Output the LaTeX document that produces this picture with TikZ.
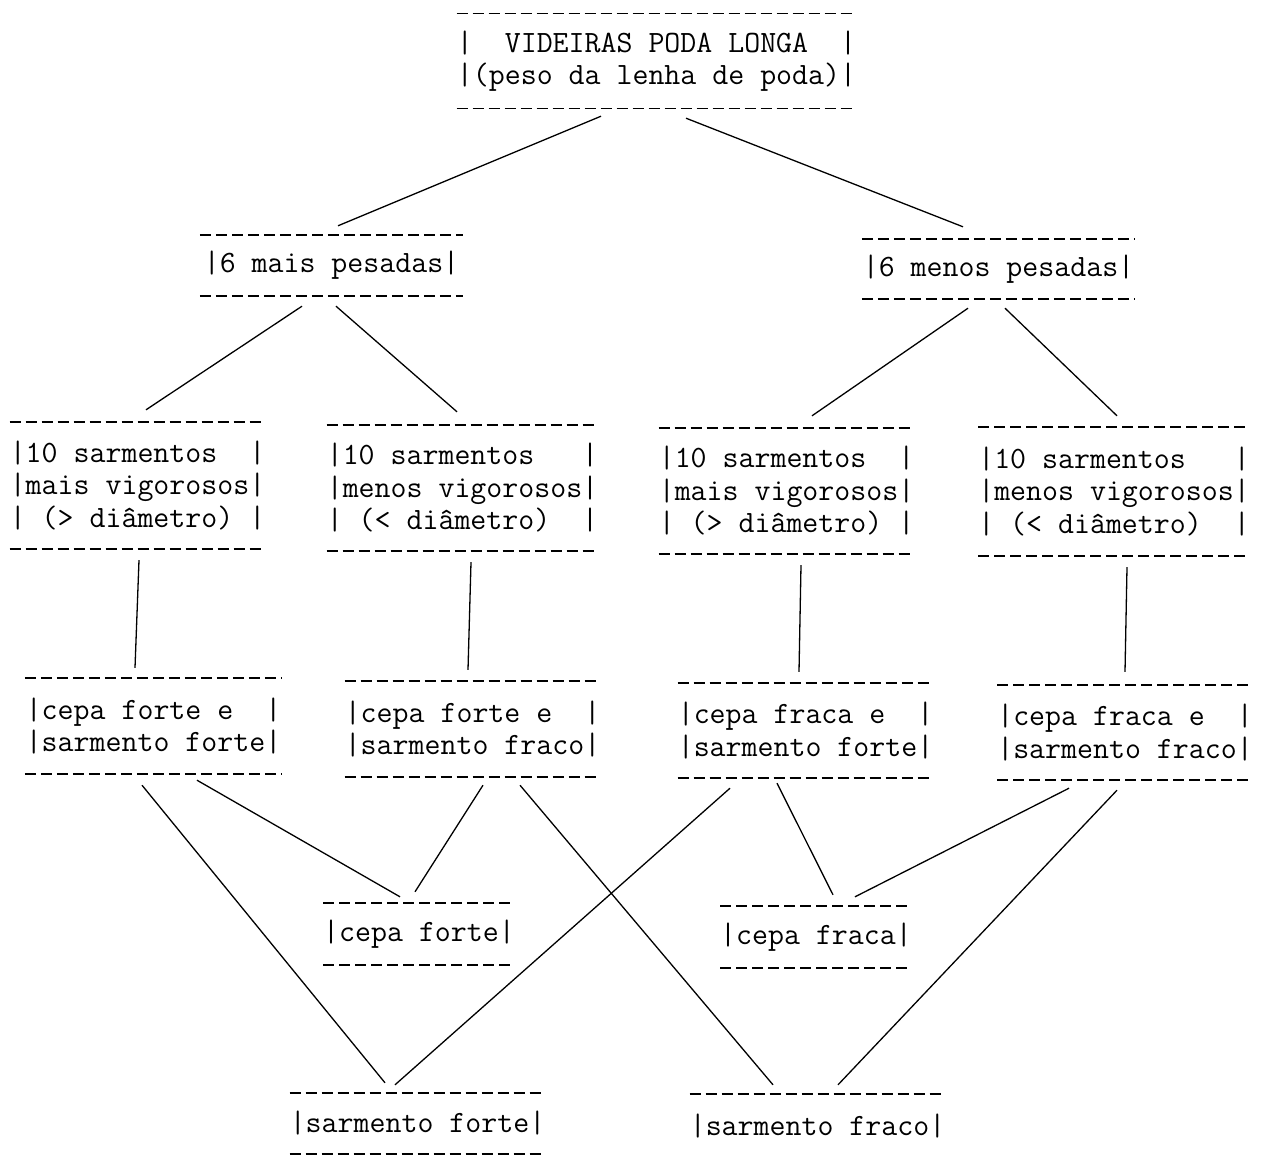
\documentclass[tikz,border=0pt]{standalone}
\usepackage{fontspec}
\newcommand\twfont{\ttfamily\fontsize{31}{32.5}\selectfont\addfontfeatures{FakeBold=0.8}}
\begin{document}
\lineskiplimit=-100pt
\begin{tikzpicture}[x=1pt,y=-1pt,
  box/.style={inner sep=0pt, align=left, font=\twfont},
  dashrule/.style={line width=1.5pt, dash pattern=on 11pt off 5pt},
  link/.style={line width=1.3pt}]
\useasboundingbox[fill=white] (0,0) rectangle (1263,1156);

% level 0
\node[box, minimum width=397pt, minimum height=95pt] (top) at (656.5,61)
  {|~~VIDEIRAS PODA LONGA~~|\\|(peso da lenha de poda)|};
% level 1
\node[box, minimum width=263pt, minimum height=61pt] (ml) at (331.5,265.5) {|6 mais pesadas|};
\node[box, minimum width=273pt, minimum height=60pt] (mr) at (998.5,269) {|6 menos pesadas|};
% level 2
\node[box, minimum width=255pt, minimum height=127pt] (A) at (137.5,485.5)
  {|10 sarmentos~~|\\|mais vigorosos|\\|~(> diâmetro)~|};
\node[box, minimum width=265pt, minimum height=126pt] (B) at (462.5,488)
  {|10 sarmentos~~~|\\|menos vigorosos|\\|~(< diâmetro)~~|};
\node[box, minimum width=253pt, minimum height=126pt] (C) at (786.5,491)
  {|10 sarmentos~~|\\|mais vigorosos|\\|~(> diâmetro)~|};
\node[box, minimum width=268pt, minimum height=129pt] (D) at (1114,491.5)
  {|10 sarmentos~~~|\\|menos vigorosos|\\|~(< diâmetro)~~|};
% level 3
\node[box, minimum width=257pt, minimum height=96pt] (E) at (153.5,726)
  {|cepa forte e~~|\\|sarmento forte|};
\node[box, minimum width=255pt, minimum height=96pt] (F) at (472.5,729)
  {|cepa forte e~~|\\|sarmento fraco|};
\node[box, minimum width=255pt, minimum height=95pt] (G) at (805.5,730.5)
  {|cepa fraca e~~|\\|sarmento forte|};
\node[box, minimum width=250pt, minimum height=95pt] (H) at (1125,732.5)
  {|cepa fraca e~~|\\|sarmento fraco|};
% level 4
\node[box, minimum width=188pt, minimum height=62pt] (I) at (419,934) {|cepa forte|};
\node[box, minimum width=188pt, minimum height=62pt] (J) at (816,937) {|cepa fraca|};
% level 5
\node[box, minimum width=255pt, minimum height=61pt] (K) at (417.5,1123.5) {|sarmento forte|};
\node[box, minimum width=255pt, minimum height=64pt] (L) at (817.5,1126) {|sarmento fraco|};

% dashed rules above and below the texts
\foreach \n in {top,ml,mr,A,B,C,D,E,F,G,H,I,J,K}
  \draw[dashrule] (\n.north west) -- (\n.north east)
                  (\n.south west) -- (\n.south east);
\draw[dashrule] (L.north west) -- (L.north east);

% connectors
\draw[link] ([shift={(-55.5,7.5)}]top.south) -- ([shift={(6.5,-9)}]ml.north);
\draw[link] ([shift={(29.5,9.5)}]top.south) -- ([shift={(-35.5,-12)}]mr.north);

\draw[link] ([shift={(-29.5,10)}]ml.south) -- ([shift={(8.5,-12)}]A.north);
\draw[link] ([shift={(4.5,10)}]ml.south) -- ([shift={(-5.5,-13)}]B.north);
\draw[link] ([shift={(-30.5,9)}]mr.south) -- ([shift={(25.5,-12)}]C.north);
\draw[link] ([shift={(6.5,9)}]mr.south) -- ([shift={(3,-11)}]D.north);

\draw[link] ([shift={(1.5,11)}]A.south) -- ([shift={(-18.5,-10)}]E.north);
\draw[link] ([shift={(8.5,11)}]B.south) -- ([shift={(-4.5,-11)}]F.north);
\draw[link] ([shift={(14.5,11)}]C.south) -- ([shift={(-6.5,-11)}]G.north);
\draw[link] ([shift={(13,11)}]D.south) -- ([shift={(0,-13)}]H.north);

\draw[link] ([shift={(-11.5,11)}]E.south) -- ([shift={(-32.5,-10)}]K.north);
\draw[link] ([shift={(43.5,6)}]E.south) -- ([shift={(-19,-6)}]I.north);
\draw[link] ([shift={(10.5,8)}]F.south) -- ([shift={(-4,-11)}]I.north);
\draw[link] ([shift={(47.5,8)}]F.south) -- ([shift={(-44.5,-9)}]L.north);
\draw[link] ([shift={(-75.5,10)}]G.south) -- ([shift={(-22.5,-8)}]K.north);
\draw[link] ([shift={(-28.5,5)}]G.south) -- ([shift={(17,-11)}]J.north);
\draw[link] ([shift={(-56,8)}]H.south) -- ([shift={(39,-9)}]J.north);
\draw[link] ([shift={(-8,10)}]H.south) -- ([shift={(20.5,-9)}]L.north);
\end{tikzpicture}
\end{document}
